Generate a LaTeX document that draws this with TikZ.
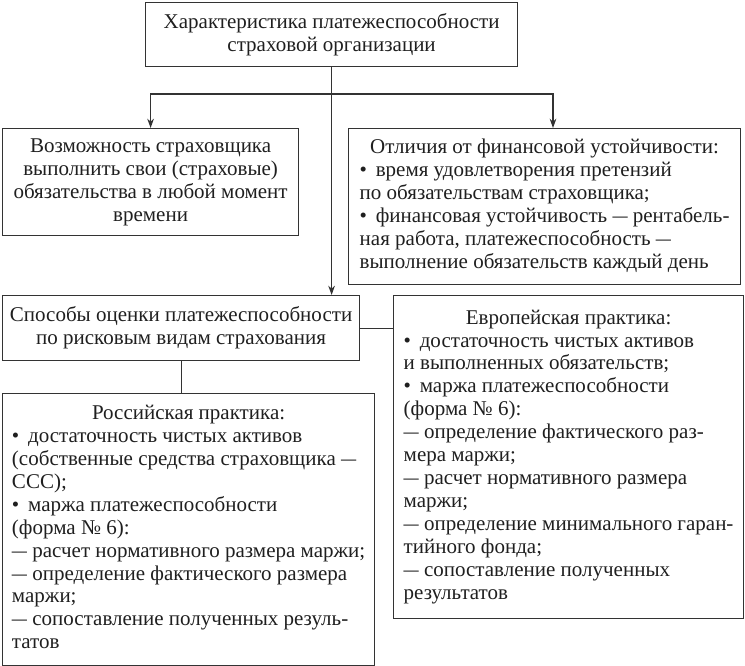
\documentclass[tikz,border=0pt]{standalone}
\usepackage{fontspec}
\setmainfont{Liberation Serif}
\usetikzlibrary{arrows.meta}
\setlength\parindent{0pt}
\newcommand\mydash{\scalebox{0.72}[1]{—}}
\begin{document}
\begin{tikzpicture}[x=0.75pt,y=-0.75pt,
  every node/.style={font=\fontsize{15.75}{17.2}\selectfont, text=black!88},
  box/.style={draw=black!80, line width=0.9pt, inner sep=0pt, anchor=north west},
  conn/.style={draw=black!80, line width=0.9pt},
  arr/.style={conn, -{Stealth[length=7pt,width=5pt]}}]
\useasboundingbox (0,0) rectangle (745,666);

\node[box, minimum width=279pt, minimum height=48pt, align=center] (top) at (145,2)
  {Характеристика платежеспособности\\страховой организации};

\node[box, minimum width=222pt, minimum height=80.25pt, align=center] (vozm) at (2,128)
  {Возможность страховщика\\выполнить свои (страховые)\\обязательства в любой момент\\времени};

\node[box, minimum width=294pt, minimum height=117pt] (otl) at (348,128)
  {\begin{tabular}{@{}l@{}}
   \multicolumn{1}{@{}c@{}}{Отличия от финансовой устойчивости:}\\
   • \,время удовлетворения претензий\\
   по обязательствам страховщика;\\
   • \,финансовая устойчивость \mydash\ рентабель-\\
   ная работа, платежеспособность \mydash\\
   выполнение обязательств каждый день
   \end{tabular}};

\node[box, minimum width=267.75pt, minimum height=48.75pt, align=center] (spos) at (2,295)
  {Способы оценки платежеспособности\\по рисковым видам страхования};

\node[box, minimum width=262.5pt, minimum height=242.25pt] (evro) at (393,295)
  {\begin{tabular}{@{}l@{}}
   \multicolumn{1}{@{}c@{}}{Европейская практика:}\\
   • \,достаточность чистых активов\\
   и выполненных обязательств;\\
   • \,маржа платежеспособности\\
   (форма № 6):\\
   \mydash\ определение фактического раз-\\
   мера маржи;\\
   \mydash\ расчет нормативного размера\\
   маржи;\\
   \mydash\ определение минимального гаран-\\
   тийного фонда;\\
   \mydash\ сопоставление полученных\\
   результатов
   \end{tabular}};

\node[box, minimum width=279pt, minimum height=204pt] (ross) at (2,393)
  {\begin{tabular}{@{}l@{}}
   \multicolumn{1}{@{}c@{}}{Российская практика:}\\
   • \,достаточность чистых активов\\
   (собственные средства страховщика \mydash\\
   ССС);\\
   • \,маржа платежеспособности\\
   (форма № 6):\\
   \mydash\ расчет нормативного размера маржи;\\
   \mydash\ определение фактического размера\\
   маржи;\\
   \mydash\ сопоставление полученных резуль-\\
   татов
   \end{tabular}};

\coordinate (j) at (331,94);
\coordinate (jr) at (553,94);
\draw[arr] (top.south) -- (top.south |- spos.north);
\draw[arr] (j) -| (vozm.north);
\draw[arr] (j) -- (jr) -- (jr |- otl.north);
\draw[conn] (spos.east) -- (spos.east -| evro.west);
\draw[conn] (spos.south) -- (spos.south |- ross.north);
\end{tikzpicture}
\end{document}
